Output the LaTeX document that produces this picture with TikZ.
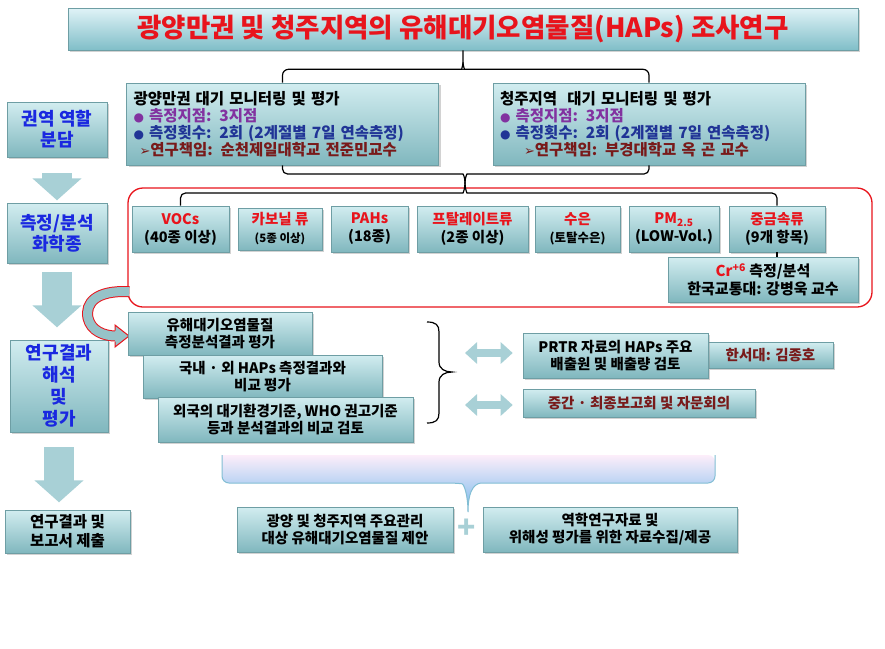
\documentclass[tikz,border=0pt]{standalone}
\usepackage{fontspec}
\setmainfont{Noto Sans CJK KR}
\newfontfamily\symfont{DejaVu Sans}
\usetikzlibrary{arrows.meta,shadows,calc}

\definecolor{boxtop}{RGB}{210,237,240}
\definecolor{boxbot}{RGB}{128,183,190}
\definecolor{boxline}{RGB}{110,158,164}
\definecolor{arrowteal}{RGB}{168,208,214}
\definecolor{ribbonfill}{RGB}{150,194,200}
\definecolor{titlered}{RGB}{232,20,28}
\definecolor{leftblue}{RGB}{26,40,224}
\definecolor{sitepurple}{RGB}{130,50,160}
\definecolor{countblue}{RGB}{32,52,150}
\definecolor{leadred}{RGB}{120,26,26}
\definecolor{bracketblue}{RGB}{118,184,236}
\definecolor{bracketline}{RGB}{130,190,212}

\newcommand{\bul}{{\symfont\fontsize{12}{12}\selectfont ●}}
\newcommand{\pointer}{{\symfont\fontsize{13}{13}\selectfont ➢}}

\tikzset{
  tealbox/.style={draw=boxline, line width=0.6pt, top color=boxtop, bottom color=boxbot,
    drop shadow={shadow xshift=2pt, shadow yshift=-2pt, opacity=0.35},
    inner sep=0pt, align=center, font=\bfseries\fontsize{14.5}{17}\selectfont},
  sidebox/.style={tealbox, text=leftblue, font=\bfseries\fontsize{18}{21}\selectfont},
  chembox/.style={tealbox, minimum height=46pt, font=\bfseries\fontsize{14.5}{18}\selectfont},
  sitebox/.style={tealbox, minimum width=312pt, minimum height=82pt, text width=298pt,
    align=left, font=\bfseries\fontsize{15.5}{16.8}\selectfont},
  link/.style={draw=black, line width=1.2pt},
  blockarrow/.style={draw=arrowteal, line width=30pt, -{Triangle[width=48pt,length=22pt]}},
  dblarrow/.style={draw=arrowteal, line width=8pt, {Triangle[width=21pt,length=12pt]}-{Triangle[width=21pt,length=12pt]}}
}

\begin{document}
\begin{tikzpicture}[x=1pt,y=-1pt]
\useasboundingbox (0,0) rectangle (885,648);
\fill[white] (0,0) rectangle (885,648);

% title and the two regions
\node[tealbox, minimum width=790pt, minimum height=42pt, top color={rgb,255:red,224;green,243;blue,247},
  bottom color={rgb,255:red,128;green,190;blue,200}, text=titlered,
  font=\bfseries\fontsize{26.5}{28}\selectfont] (title) at (463,29) {광양만권 및 청주지역의 유해대기오염물질(HAPs) 조사연구};

\node[sitebox] (gw) at (282.5,124) {광양만권 대기 모니터링 및 평가\\
  \textcolor{sitepurple}{\bul\ 측정지점: 3지점}\\
  \textcolor{countblue}{\bul\ 측정횟수: 2회 (2계절별 7일 연속측정)}\\
  \hspace*{6pt}\textcolor{leadred}{\pointer 연구책임: 순천제일대학교 전준민교수}};
\node[sitebox] (cj) at (649,124) {청주지역\ \ 대기 모니터링 및 평가\\
  \textcolor{sitepurple}{\bul\ 측정지점: 3지점}\\
  \textcolor{countblue}{\bul\ 측정횟수: 2회 (2계절별 7일 연속측정)}\\
  \hspace*{24pt}\textcolor{leadred}{\pointer 연구책임: 부경대학교 옥 곤 교수}};

\draw[link] (gw.north) [rounded corners=6pt] |- ($(title.south)+(-7,19)$) [sharp corners]
  .. controls ($(title.south)+(-2,19)$) and ($(title.south)+(0,16)$) .. ($(title.south)+(0,12)$) -- (title.south);
\draw[link] (cj.north) [rounded corners=6pt] |- ($(title.south)+(7,19)$) [sharp corners]
  .. controls ($(title.south)+(2,19)$) and ($(title.south)+(0,16)$) .. ($(title.south)+(0,12)$);

% left column
\node[sidebox, minimum width=100pt, minimum height=55pt] (role) at (57,129.5) {권역 역할\\분담};
\node[sidebox, minimum width=100pt, minimum height=60pt] (species) at (57,233) {측정/분석\\화학종};
\node[sidebox, minimum width=98pt, minimum height=92pt, font=\bfseries\fontsize{18}{22}\selectfont] (interp) at (59,386) {연구결과\\해석\\및\\평가};
\node[tealbox, minimum width=125pt, minimum height=43pt, font=\bfseries\fontsize{15.5}{19}\selectfont] (report) at (67.5,531.5) {연구결과 및\\보고서 제출};

\draw[blockarrow] ($(role.south)+(0,16)$) -- ++(0,27);
\draw[blockarrow] ($(species.south)+(0,9)$) -- ++(0,55);
\draw[blockarrow] ($(interp.south)+(0,15)$) -- ++(0,55);

% measured species
\node[draw=titlered, line width=1.3pt, rounded corners=15pt, minimum width=744pt, minimum height=119pt, inner sep=0pt] (grp) at (500,247.5) {};

\node[chembox, minimum width=97pt] (voc) at (180.5,229) {\textcolor{titlered}{VOCs}\\(40종 이상)};
\node[chembox, minimum width=84pt, minimum height=42pt] (carb) at (280,229) {\textcolor{titlered}{카보닐 류}\\{\fontsize{11.5}{13}\selectfont (5종 이상)}};
\node[chembox, minimum width=77pt] (pah) at (369.5,229) {\textcolor{titlered}{PAHs}\\(18종)};
\node[chembox, minimum width=111pt] (phth) at (472.5,229) {\textcolor{titlered}{프탈레이트류}\\(2종 이상)};
\node[chembox, minimum width=85pt] (hg) at (577.5,229) {\textcolor{titlered}{수은}\\{\fontsize{12.5}{14}\selectfont (토탈수은)}};
\node[chembox, minimum width=90pt] (pm) at (674,229) {\textcolor{titlered}{PM\textsubscript{2.5}}\\(LOW-Vol.)};
\node[chembox, minimum width=96pt] (metal) at (777,229) {\textcolor{titlered}{중금속류}\\(9개 항목)};
\node[chembox, minimum width=190pt, minimum height=45pt, font=\bfseries\fontsize{15}{18}\selectfont] (cr) at (763,279.5) {\textcolor{titlered}{Cr\textsuperscript{+6}} 측정/분석\\한국교통대: 강병욱 교수};

\coordinate (junc) at (465,183);
\draw[link] (gw.south) [rounded corners=5pt] |- ($(junc)+(-7,-9)$) [sharp corners]
  .. controls ($(junc)+(-2,-9)$) and ($(junc)+(0,-6)$) .. (junc);
\draw[link] (cj.south) [rounded corners=5pt] |- ($(junc)+(7,-9)$) [sharp corners]
  .. controls ($(junc)+(2,-9)$) and ($(junc)+(0,-6)$) .. (junc);
\draw[link] (voc.north) [rounded corners=5pt] |- ($(junc)+(-7,10)$) [sharp corners]
  .. controls ($(junc)+(-2,10)$) and ($(junc)+(0,6)$) .. (junc);
\draw[link] (metal.north) [rounded corners=5pt] |- ($(junc)+(7,10)$) [sharp corners]
  .. controls ($(junc)+(2,10)$) and ($(junc)+(0,6)$) .. (junc);
\draw[link] (metal.south) -- (metal.south |- cr.north);

% results and evaluation
\draw[double=ribbonfill, double distance=9pt, draw=titlered, line width=1pt]
  ($(grp.south west)+(2,-16)$) .. controls (96,290) and (85,303) .. (88,318)
  .. controls (91,331) and (104,336) .. (116,336);
\coordinate (tip) at (129,336);
\fill[ribbonfill] ($(tip)+(-14,-11)$) -- (tip) -- ($(tip)+(-14,11)$) -- cycle;
\draw[draw=titlered, line width=1pt] ($(tip)+(-14,-5.5)$) -- ($(tip)+(-14,-11)$) -- (tip) -- ($(tip)+(-14,11)$) -- ($(tip)+(-14,5.5)$);

\node[tealbox, minimum width=184pt, minimum height=43pt] (ev1) at (220,333.5) {유해대기오염물질\\측정분석결과 평가};
\node[tealbox, minimum width=239pt, minimum height=43pt] (ev2) at (262.5,376.5) {국내 · 외 HAPs 측정결과와\\비교 평가};
\node[tealbox, minimum width=255pt, minimum height=45pt] (ev3) at (285.5,419.5) {외국의 대기환경기준, WHO 권고기준\\등과 분석결과의 비교 검토};

\draw[link] (427,322) .. controls (436,322) and (439,325) .. (439,332) -- (439,362)
  .. controls (439,369) and (445,372) .. (452,372) .. controls (445,372) and (439,375) .. (439,382)
  -- (439,413) .. controls (439,420) and (436,423) .. (427,423);

\node[tealbox, minimum width=125pt, minimum height=26pt, text=leadred] (hanseo) at (770.5,355) {한서대: 김종호};
\node[tealbox, minimum width=185pt, minimum height=45pt] (prtr) at (615.5,355.5) {PRTR 자료의 HAPs 주요\\배출원 및 배출량 검토};
\node[tealbox, minimum width=232pt, minimum height=28pt, text=leadred] (meet) at (639,403) {중간 · 최종보고회 및 자문회의};

\coordinate (dl1) at (465,353);
\coordinate (dl2) at (465,405);
\draw[dblarrow, shorten >=10pt] (dl1) -- (dl1 -| prtr.west);
\draw[dblarrow, shorten >=10pt] (dl2) -- (dl2 -| meet.west);

% outcomes
\path[top color={rgb,255:red,253;green,238;blue,250}, bottom color=bracketblue]
  (222,455) [rounded corners=7pt] -- (222,483) -- (455,483) [sharp corners]
  .. controls (464,484) and (468,495) .. (468,512) .. controls (468,495) and (472,484) .. (481,483)
  [rounded corners=7pt] -- (715,483) -- (715,455) [sharp corners] -- cycle;
\draw[draw=bracketline, line width=1pt]
  (222,455) [rounded corners=7pt] -- (222,483) -- (455,483) [sharp corners]
  .. controls (464,484) and (468,495) .. (468,512) .. controls (468,495) and (472,484) .. (481,483)
  [rounded corners=7pt] -- (715,483) -- (715,455);

\node[tealbox, minimum width=216pt, minimum height=45pt] (propose) at (345,529.5) {광양 및 청주지역 주요관리\\대상 유해대기오염물질 제안};
\node[inner sep=0pt, text=arrowteal, font=\bfseries\fontsize{30}{30}\selectfont] (plus) at (467,529) {+};
\node[tealbox, minimum width=254pt, minimum height=45pt] (epi) at (610,529.5) {역학연구자료 및\\위해성 평가를 위한 자료수집/제공};
\end{tikzpicture}
\end{document}
